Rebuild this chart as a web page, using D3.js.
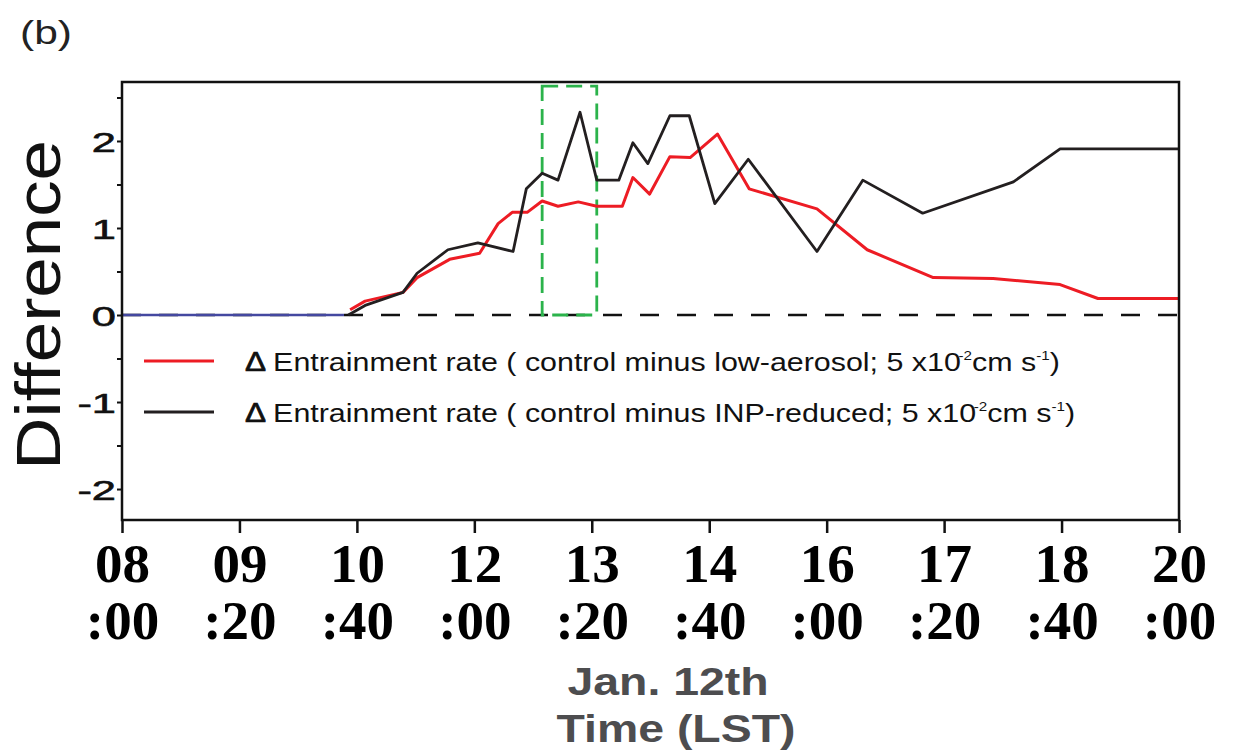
<!DOCTYPE html>
<html>
<head>
<meta charset="utf-8">
<script src="https://d3js.org/d3.v7.min.js"></script>
<style>
  body { margin: 0; background: #fff; }
  text { font-family: "Liberation Sans", Arial, sans-serif; }
</style>
</head>
<body>
<div id="chart"></div>
<script>
// x ticks every 80 minutes, 08:00 .. 20:00
var tickHours = [8, 9.3333, 10.6667, 12, 13.3333, 14.6667, 16, 17.3333, 18.6667, 20];
var tickTop = ["08", "09", "10", "12", "13", "14", "16", "17", "18", "20"];
var tickBottom = [":00", ":20", ":40", ":00", ":20", ":40", ":00", ":20", ":40", ":00"];
var yTicks = [-2, -1, 0, 1, 2];
var yMinor = [-1.5, -0.5, 0.5, 1.5, 2.5];

// control minus low-aerosol (red)
var redHours = [10.59, 10.76, 11.19, 11.35, 11.72, 12.06, 12.27, 12.43, 12.60, 12.77,
                12.95, 13.18, 13.39, 13.68, 13.80, 13.99, 14.22, 14.45, 14.76, 15.12,
                15.89, 16.46, 17.21, 17.89, 18.65, 19.08, 20.0];
var redValues = [0.06, 0.16, 0.26, 0.43, 0.64, 0.71, 1.05, 1.18, 1.18, 1.31,
                 1.25, 1.30, 1.25, 1.25, 1.58, 1.39, 1.82, 1.81, 2.08, 1.45,
                 1.22, 0.75, 0.43, 0.42, 0.35, 0.19, 0.19];

// control minus INP-reduced (black)
var blackHours = [10.57, 10.76, 11.19, 11.35, 11.70, 12.04, 12.44, 12.59, 12.77, 12.95,
                  13.20, 13.39, 13.64, 13.80, 13.97, 14.22, 14.44, 14.73, 15.11, 15.89,
                  16.41, 17.09, 18.12, 18.65, 20.0];
var blackValues = [0.0, 0.11, 0.26, 0.48, 0.75, 0.83, 0.73, 1.45, 1.63, 1.55,
                   2.33, 1.55, 1.55, 1.98, 1.74, 2.29, 2.29, 1.28, 1.79, 0.73,
                   1.55, 1.17, 1.53, 1.91, 1.91];

// before the runs split (blue)
var blueHours = [8.0, 10.52];
var blueValues = [0, 0];

// highlighted window (green dashed box)
var boxHours = [12.77, 13.39];
var boxTop = 2.63;

var legendLabels = ["control minus low-aerosol", "control minus INP-reduced"];
var legendColors = ["#ed1c24", "#231f20"];

var W = 1235, H = 751;
var margin = {top: 82, right: 56, bottom: 231, left: 122};
var width = W - margin.left - margin.right,
    height = H - margin.top - margin.bottom;

var svg = d3.select("#chart").append("svg")
    .attr("width", W)
    .attr("height", H);

var g = svg.append("g")
    .attr("transform", "translate(" + margin.left + "," + margin.top + ")");

var x = d3.scaleLinear().domain([8, 20]).range([0, width]);
var y = d3.scaleLinear().domain([-2.356, 2.678]).range([height, 0]);

function pts(hs, vs) { return hs.map(function(h, i) { return [h, vs[i]]; }); }
var line = d3.line().x(function(d) { return x(d[0]); }).y(function(d) { return y(d[1]); });

// zero line
g.append("line")
    .attr("x1", x(8)).attr("x2", x(20))
    .attr("y1", y(0)).attr("y2", y(0))
    .attr("stroke", "#111").attr("stroke-width", 2.5)
    .attr("stroke-dasharray", "19,18");

// green box
g.append("rect")
    .attr("x", x(boxHours[0]))
    .attr("y", y(boxTop))
    .attr("width", x(boxHours[1]) - x(boxHours[0]))
    .attr("height", y(0) - y(boxTop))
    .attr("fill", "none")
    .attr("stroke", "#2bb34b").attr("stroke-width", 2.8)
    .attr("stroke-dasharray", "16,8");

g.append("path").datum(pts(blueHours, blueValues))
    .attr("d", line).attr("fill", "none")
    .attr("stroke", "#4448a0").attr("stroke-width", 2.5);

g.append("path").datum(pts(redHours, redValues))
    .attr("d", line).attr("fill", "none")
    .attr("stroke", "#ed1c24").attr("stroke-width", 3)
    .attr("stroke-linejoin", "round");

g.append("path").datum(pts(blackHours, blackValues))
    .attr("d", line).attr("fill", "none")
    .attr("stroke", "#231f20").attr("stroke-width", 2.8)
    .attr("stroke-linejoin", "round");

// frame
g.append("rect")
    .attr("x", 0).attr("y", 0)
    .attr("width", width).attr("height", height)
    .attr("fill", "none")
    .attr("stroke", "#111").attr("stroke-width", 2.5);

// x axis
var xAxis = g.append("g")
    .attr("transform", "translate(0," + height + ")")
    .call(d3.axisBottom(x).tickValues(tickHours).tickSize(13).tickFormat(""));
xAxis.select(".domain").remove();
xAxis.selectAll(".tick line").attr("stroke", "#111").attr("stroke-width", 2.5);

var xl = xAxis.selectAll(".tick text")
    .attr("fill", "#000")
    .style("font-family", "'Liberation Serif', 'Times New Roman', serif")
    .style("font-weight", "bold")
    .style("font-size", "55px")
    .attr("y", 0).attr("dy", null)
    .attr("text-anchor", "middle");
xl.each(function(d, i) {
    var t = d3.select(this);
    t.append("tspan").attr("x", 0).attr("y", 62).text(tickTop[i]);
    t.append("tspan").attr("x", 0).attr("y", 119).text(tickBottom[i]);
});

// y axis
var yAxis = g.append("g")
    .call(d3.axisLeft(y).tickValues(yTicks.concat(yMinor)).tickSize(5)
        .tickFormat(function(d) { return yTicks.indexOf(d) >= 0 ? d : ""; }));
yAxis.select(".domain").remove();
yAxis.selectAll(".tick line").attr("stroke", "#111").attr("stroke-width", 2);
yAxis.selectAll(".tick text")
    .text(function(d) { return yTicks.indexOf(d) >= 0 ? String(d).replace("\u2212", "-") : ""; })
    .attr("x", 0).attr("dy", "0.36em")
    .attr("transform", "translate(-6,0) scale(1.55,1)")
    .attr("fill", "#111")
    .style("font-size", "28px")
    .style("stroke", "#111").style("stroke-width", 0.6);

// y title
svg.append("text")
    .attr("transform", "translate(60,305) rotate(-90)")
    .attr("text-anchor", "middle")
    .attr("textLength", 330)
    .attr("lengthAdjust", "spacingAndGlyphs")
    .style("font-size", "63px")
    .attr("fill", "#111")
    .text("Difference");

// x title
svg.append("text")
    .attr("transform", "translate(668,695) scale(1.19,1)")
    .attr("text-anchor", "middle")
    .style("font-size", "39px").style("font-weight", "bold")
    .attr("fill", "#4d4d4f")
    .text("Jan. 12th");
svg.append("text")
    .attr("transform", "translate(676,742) scale(1.19,1)")
    .attr("text-anchor", "middle")
    .style("font-size", "39px").style("font-weight", "bold")
    .attr("fill", "#4d4d4f")
    .text("Time (LST)");

// panel label
svg.append("text")
    .attr("transform", "translate(20,44) scale(1.25,1)")
    .style("font-size", "34px")
    .attr("fill", "#222")
    .text("(b)");

// legend
var legend = svg.selectAll(".legend")
    .data(legendLabels)
    .enter().append("g")
    .attr("class", "legend")
    .attr("transform", function(d, i) { return "translate(0," + (361 + i * 51) + ")"; });

legend.append("line")
    .attr("x1", 144).attr("x2", 214)
    .attr("y1", 0).attr("y2", 0)
    .attr("stroke", function(d, i) { return legendColors[i]; })
    .attr("stroke-width", 2.8);

var lt = legend.append("text")
    .attr("transform", "translate(245,10) scale(1.17,1)")
    .attr("fill", "#111")
    .style("font-size", "26px");
lt.append("tspan").style("font-size", "27px").style("stroke", "#111").style("stroke-width", 0.7).text("\u0394");
lt.append("tspan").attr("dx", 6).text("Entrainment rate ( ");
lt.append("tspan").text(function(d) { return d + "; 5 x10"; });
lt.append("tspan").attr("dy", -11).attr("dx", -2).style("font-size", "13px").text("-2");
lt.append("tspan").attr("dy", 11).text("cm s");
lt.append("tspan").attr("dy", -11).style("font-size", "13px").text("-1");
lt.append("tspan").attr("dy", 11).text(")");
</script>
</body>
</html>
